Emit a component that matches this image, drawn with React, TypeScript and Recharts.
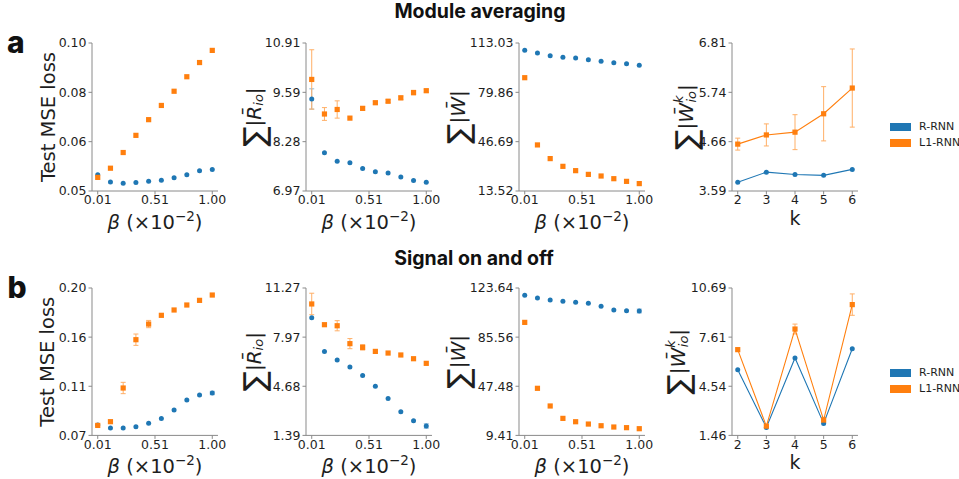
import React from 'react'
import { ErrorBar, Scatter, ScatterChart, XAxis, YAxis } from 'recharts'

const BLUE = '#1f77b4'
const ORANGE = '#ff7f0e'
const BLUE_ERR = '#8fbbdb'
const ORANGE_ERR = '#ffaf66'
const SPINE = '#8a8a8a'
const INK = '#1e1e1e'
const FONT = '"DejaVu Sans", sans-serif'
const TITLE_FONT = 'Inter, "Noto Sans", sans-serif'

const betas = [0.01, 0.12, 0.23, 0.34, 0.45, 0.56, 0.67, 0.78, 0.89, 1.0]
const betaTicks = [0.01, 0.505, 1.0]
const betaTickLabels = ['0.01', '0.51', '1.00']
const ks = [2, 3, 4, 5, 6]
const kTickLabels = ['2', '3', '4', '5', '6']

// row a: module averaging
const aLossR = [0.0555, 0.053, 0.0526, 0.0529, 0.0533, 0.0536, 0.0545, 0.0555, 0.0568, 0.0573]
const aLossL = [0.0546, 0.0577, 0.063, 0.0688, 0.0741, 0.0789, 0.0837, 0.0886, 0.0934, 0.0975]
const aLossTicks = ['0.05', '0.06', '0.08', '0.10']

const aRioR = [9.42, 7.99, 7.76, 7.72, 7.57, 7.48, 7.45, 7.34, 7.25, 7.2]
const aRioRErr = [0.27, null, null, null, null, null, null, null, null, null]
const aRioL = [9.94, 9.02, 9.14, 8.91, 9.17, 9.32, 9.36, 9.45, 9.59, 9.64]
const aRioLErr = [0.79, 0.17, 0.23, null, 0.05, 0.04, 0.04, 0.05, 0.06, 0.04]
const aRioTicks = ['6.97', '8.28', '9.59', '10.91']

const aWR = [108.1, 106.3, 104.5, 103.4, 102.9, 101.8, 100.7, 99.8, 99.1, 98.0]
const aWL = [89.7, 44.5, 35.3, 30.1, 27.2, 24.7, 23.6, 21.8, 20.0, 18.5]
const aWTicks = ['13.52', '46.69', '79.86', '113.03']

const aWkR = [3.78, 4.0, 3.95, 3.93, 4.06]
const aWkL = [4.61, 4.81, 4.87, 5.27, 5.83]
const aWkLErr = [0.13, 0.24, 0.38, 0.59, 0.85]
const aWkTicks = ['3.59', '4.66', '5.74', '6.81']

// row b: signal on and off
const bLossR = [0.0791, 0.0765, 0.0765, 0.0776, 0.0806, 0.085, 0.0924, 0.1012, 0.1056, 0.1074]
const bLossRErr = [null, null, null, null, null, null, null, null, null, 0.0015]
const bLossL = [0.0788, 0.0821, 0.1118, 0.1544, 0.1682, 0.1759, 0.1806, 0.185, 0.1891, 0.1938]
const bLossLErr = [null, null, 0.005, 0.005, 0.0032, null, null, null, null, null]
const bLossTicks = ['0.07', '0.11', '0.16', '0.20']

const bRioR = [9.28, 7.02, 6.44, 5.97, 5.41, 4.68, 3.87, 2.98, 2.37, 2.02]
const bRioRErr = [null, null, null, null, null, null, null, null, null, 0.15]
const bRioL = [10.2, 8.81, 8.74, 7.54, 7.29, 7.02, 6.91, 6.78, 6.53, 6.22]
const bRioLErr = [0.72, null, 0.34, 0.34, 0.18, null, null, null, null, null]
const bRioTicks = ['1.39', '4.68', '7.97', '11.27']

const bWR = [117.96, 115.89, 114.34, 113.3, 112.53, 111.75, 109.43, 106.58, 106.07, 105.81]
const bWRErr = [null, null, null, null, null, null, null, null, null, 1.5]
const bWL = [97.0, 45.9, 32.2, 22.6, 20.0, 18.2, 16.9, 15.9, 15.4, 14.6]
const bWTicks = ['9.41', '47.48', '85.56', '123.64']

const bWkR = [5.57, 1.96, 6.31, 2.21, 6.89]
const bWkL = [6.83, 2.04, 8.12, 2.42, 9.65]
const bWkLErr = [null, null, 0.31, 0.17, 0.67]
const bWkTicks = ['1.46', '4.54', '7.61', '10.69']

const seriesNames = ['R-RNN', 'L1-RNN']

// layout
const PLOT_W = 126
const Y_AXIS_W = 90
const TOP_PAD = 8
const RIGHT_PAD = 8
const X_AXIS_H = 46
const COL_LEFT = [92.3, 305.6, 519, 732.3]
const ROW_TOP = [42.7, 288.3]
const ROW_H = [148, 147.4]

type Err = (number | null)[]
type YKind = 'mse' | 'rio' | 'w' | 'wk'

function YTitle({ viewBox, kind, dist }: { viewBox: any; kind: YKind; dist: number }) {
  const cx = viewBox.x + viewBox.width - dist
  const cy = viewBox.y + viewBox.height / 2
  const common = {
    transform: `rotate(-90 ${cx} ${cy})`,
    x: cx,
    y: cy,
    textAnchor: 'middle' as const,
    dominantBaseline: 'central' as const,
    fill: INK,
    fontFamily: FONT,
  }
  if (kind === 'mse') {
    return (
      <text {...common} fontSize={19.5}>
        Test MSE loss
      </text>
    )
  }
  return (
    <text {...common} fontSize={20}>
      <tspan fontSize={30}>∑</tspan>
      <tspan>|</tspan>
      <tspan fontStyle="italic">{kind === 'rio' ? 'R\u0304' : 'W\u0304'}</tspan>
      {kind === 'rio' && (
        <tspan fontSize={13} fontStyle="italic" dy={4}>
          io
        </tspan>
      )}
      {kind === 'wk' && (
        <>
          <tspan fontSize={13} fontStyle="italic" dy={-8}>
            k
          </tspan>
          <tspan fontSize={13} fontStyle="italic" dx={-7} dy={13}>
            io
          </tspan>
        </>
      )}
      <tspan dy={kind === 'rio' ? -4 : kind === 'wk' ? -5 : 0}>|</tspan>
    </text>
  )
}

function XTitle({ viewBox, kind }: { viewBox: any; kind: 'beta' | 'k' }) {
  const cx = viewBox.x + viewBox.width / 2
  if (kind === 'k') {
    return (
      <text x={cx} y={viewBox.y + 33.5} textAnchor="middle" fontSize={19} fill={INK} fontFamily={FONT}>
        k
      </text>
    )
  }
  return (
    <text x={cx} y={viewBox.y + 38} textAnchor="middle" fontSize={19.5} fill={INK} fontFamily={FONT}>
      <tspan fontStyle="italic">β</tspan> (×10
      <tspan fontSize={13.5} dy={-8}>
        −2
      </tspan>
      <tspan dy={8}>)</tspan>
    </text>
  )
}

const dot = (color: string) => (props: any) => <circle cx={props.cx} cy={props.cy} r={2.5} fill={color} />
const square = (color: string) => (props: any) => (
  <rect x={props.cx - 2.6} y={props.cy - 2.6} width={5.2} height={5.2} fill={color} />
)

interface PanelProps {
  col: number
  row: number
  xs: number[]
  xTicks: number[]
  xTickLabels: string[]
  xKind: 'beta' | 'k'
  r: number[]
  rErr?: Err
  l: number[]
  lErr?: Err
  yTickLabels: string[]
  yKind: YKind
  yDist: number
  joined?: boolean
}

function Panel(p: PanelProps) {
  const height = ROW_H[p.row]
  const n = p.yTickLabels.length
  const y0 = Number(p.yTickLabels[0])
  const y1 = Number(p.yTickLabels[n - 1])
  const yTicks = p.yTickLabels.map((_, i) => y0 + (i * (y1 - y0)) / (n - 1))
  const xMin = p.xs[0]
  const xMax = p.xs[p.xs.length - 1]
  const pad = (xMax - xMin) * 0.05
  const rData = p.xs.map((x, i) => ({ x, y: p.r[i], err: p.rErr?.[i] ?? null }))
  const lData = p.xs.map((x, i) => ({ x, y: p.l[i], err: p.lErr?.[i] ?? null }))
  const nearest = (ticks: number[], labels: string[], v: number) => {
    let best = 0
    ticks.forEach((t, i) => {
      if (Math.abs(t - v) < Math.abs(ticks[best] - v)) best = i
    })
    return labels[best]
  }
  const tick = { fill: INK, fontSize: 12.5, fontFamily: FONT }

  return (
    <div style={{ position: 'absolute', left: COL_LEFT[p.col] - Y_AXIS_W, top: ROW_TOP[p.row] - TOP_PAD }}>
      <ScatterChart
        width={Y_AXIS_W + PLOT_W + RIGHT_PAD}
        height={TOP_PAD + height + X_AXIS_H}
        margin={{ top: TOP_PAD, right: RIGHT_PAD, bottom: 0, left: 0 }}
      >
        <XAxis
          type="number"
          dataKey="x"
          domain={[xMin - pad, xMax + pad]}
          allowDataOverflow
          ticks={p.xTicks}
          interval={0}
          tickFormatter={(v: number) => nearest(p.xTicks, p.xTickLabels, v)}
          height={X_AXIS_H}
          stroke={SPINE}
          tickSize={3.5}
          tickMargin={1}
          tick={tick}
          label={(lp: any) => <XTitle viewBox={lp.viewBox} kind={p.xKind} />}
        />
        <YAxis
          type="number"
          dataKey="y"
          domain={[y0, y1]}
          allowDataOverflow
          ticks={yTicks}
          interval={0}
          tickFormatter={(v: number) => nearest(yTicks, p.yTickLabels, v)}
          width={Y_AXIS_W}
          stroke={SPINE}
          tickSize={3.5}
          tickMargin={2}
          tick={tick}
          label={(lp: any) => <YTitle viewBox={lp.viewBox} kind={p.yKind} dist={p.yDist} />}
        />
        <Scatter
          name={seriesNames[0]}
          data={rData}
          shape={dot(BLUE)}
          line={p.joined ? { stroke: BLUE, strokeWidth: 1.1 } : false}
          lineType="joint"
          isAnimationActive={false}
        >
          <ErrorBar dataKey="err" direction="y" width={2.5} stroke={BLUE_ERR} strokeWidth={1} />
        </Scatter>
        <Scatter
          name={seriesNames[1]}
          data={lData}
          shape={square(ORANGE)}
          line={p.joined ? { stroke: ORANGE, strokeWidth: 1.1 } : false}
          lineType="joint"
          isAnimationActive={false}
        >
          <ErrorBar dataKey="err" direction="y" width={2.5} stroke={ORANGE_ERR} strokeWidth={1} />
        </Scatter>
      </ScatterChart>
    </div>
  )
}

function LegendBox({ top }: { top: number }) {
  return (
    <>
      {seriesNames.map((name, i) => (
        <div key={name}>
          <div
            style={{
              position: 'absolute',
              left: 889.5,
              top: top + i * 16,
              width: 21,
              height: 7.5,
              background: i === 0 ? BLUE : ORANGE,
            }}
          />
          <div
            style={{
              position: 'absolute',
              left: 919,
              top: top + i * 16 - 4,
              fontFamily: FONT,
              fontSize: 11,
              lineHeight: '15px',
              color: INK,
              whiteSpace: 'nowrap',
            }}
          >
            {name}
          </div>
        </div>
      ))}
    </>
  )
}

export default function App() {
  return (
    <div style={{ position: 'absolute', left: 0, top: 0, width: 959, height: 479, background: '#fff' }}>
      <svg width={959} height={479} style={{ position: 'absolute', left: 0, top: 0 }}>
        <text x={480} y={18} textAnchor="middle" fontFamily={TITLE_FONT} fontWeight={700} fontSize={19.5} fill="#111">
          Module averaging
        </text>
        <text x={474} y={264.5} textAnchor="middle" fontFamily={TITLE_FONT} fontWeight={700} fontSize={19.5} fill="#111">
          Signal on and off
        </text>
        <text x={7} y={52.5} fontFamily={TITLE_FONT} fontWeight={800} fontSize={30} fill="#111">
          a
        </text>
        <text x={7.5} y={297.5} fontFamily={TITLE_FONT} fontWeight={800} fontSize={30} fill="#111">
          b
        </text>
      </svg>

      <Panel col={0} row={0} xs={betas} xTicks={betaTicks} xTickLabels={betaTickLabels} xKind="beta"
        r={aLossR} l={aLossL} yTickLabels={aLossTicks} yKind="mse" yDist={44} />
      <Panel col={1} row={0} xs={betas} xTicks={betaTicks} xTickLabels={betaTickLabels} xKind="beta"
        r={aRioR} rErr={aRioRErr} l={aRioL} lErr={aRioLErr} yTickLabels={aRioTicks} yKind="rio" yDist={52} />
      <Panel col={2} row={0} xs={betas} xTicks={betaTicks} xTickLabels={betaTickLabels} xKind="beta"
        r={aWR} l={aWL} yTickLabels={aWTicks} yKind="w" yDist={61} />
      <Panel col={3} row={0} xs={ks} xTicks={ks} xTickLabels={kTickLabels} xKind="k"
        r={aWkR} l={aWkL} lErr={aWkLErr} yTickLabels={aWkTicks} yKind="wk" yDist={46} joined />

      <Panel col={0} row={1} xs={betas} xTicks={betaTicks} xTickLabels={betaTickLabels} xKind="beta"
        r={bLossR} rErr={bLossRErr} l={bLossL} lErr={bLossLErr} yTickLabels={bLossTicks} yKind="mse" yDist={44} />
      <Panel col={1} row={1} xs={betas} xTicks={betaTicks} xTickLabels={betaTickLabels} xKind="beta"
        r={bRioR} rErr={bRioRErr} l={bRioL} lErr={bRioLErr} yTickLabels={bRioTicks} yKind="rio" yDist={52} />
      <Panel col={2} row={1} xs={betas} xTicks={betaTicks} xTickLabels={betaTickLabels} xKind="beta"
        r={bWR} rErr={bWRErr} l={bWL} yTickLabels={bWTicks} yKind="w" yDist={61} />
      <Panel col={3} row={1} xs={ks} xTicks={ks} xTickLabels={kTickLabels} xKind="k"
        r={bWkR} l={bWkL} lErr={bWkLErr} yTickLabels={bWkTicks} yKind="wk" yDist={54} joined />

      <LegendBox top={123.3} />
      <LegendBox top={369} />
    </div>
  )
}
